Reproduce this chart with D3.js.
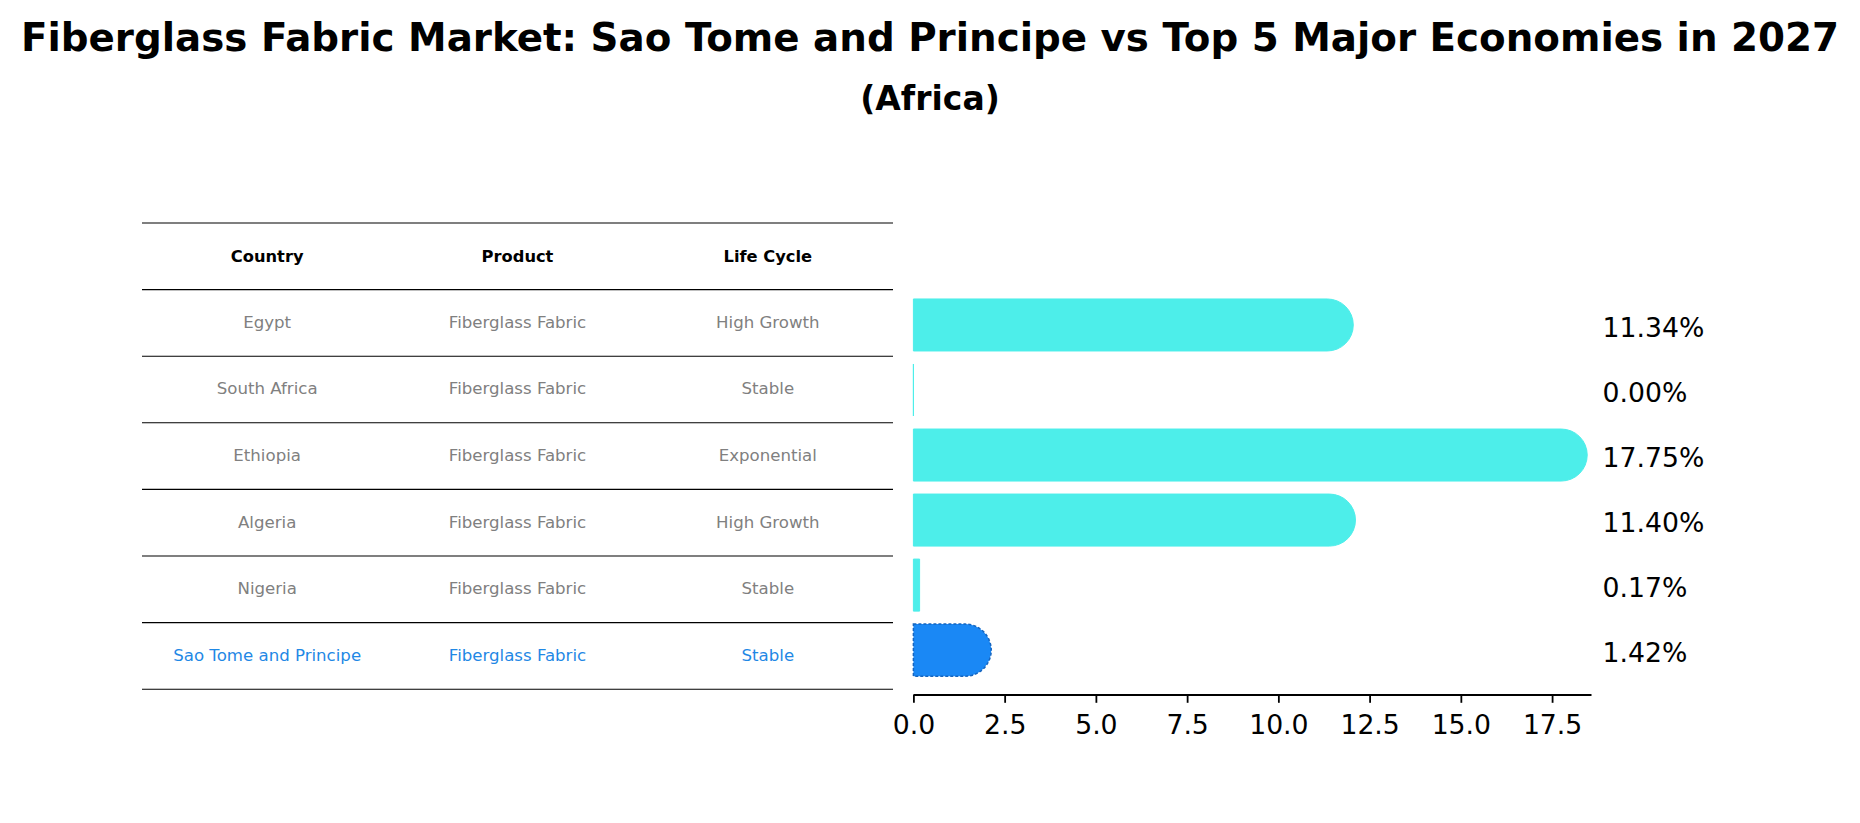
<!DOCTYPE html>
<html>
<head>
<meta charset="utf-8">
<script src="https://cdn.jsdelivr.net/npm/d3@7"></script>
<style>
  body { margin: 0; background: #fff; }
  svg { display: block; font-family: "DejaVu Sans", sans-serif; }
</style>
</head>
<body>
<script>
const countries = ["Egypt", "South Africa", "Ethiopia", "Algeria", "Nigeria", "Sao Tome and Principe"];
const products = ["Fiberglass Fabric", "Fiberglass Fabric", "Fiberglass Fabric", "Fiberglass Fabric", "Fiberglass Fabric", "Fiberglass Fabric"];
const lifeCycles = ["High Growth", "Stable", "Exponential", "High Growth", "Stable", "Stable"];
const values = [11.34, 0.00, 17.75, 11.40, 0.17, 1.42];
const headers = ["Country", "Product", "Life Cycle"];
const xTicks = [0, 2.5, 5, 7.5, 10, 12.5, 15, 17.5];

const W = 1860, H = 823;
const cyan = "#4deeea", blue = "#1a88f5", grey = "#808080", hiText = "#1f88e5";
const focus = countries.length - 1;

var svg = d3.select("body").append("svg")
    .attr("width", W)
    .attr("height", H);

// titles
svg.append("text")
    .attr("x", W / 2).attr("y", 51)
    .attr("text-anchor", "middle")
    .style("font-size", "38.8px").style("font-weight", "bold")
    .text("Fiberglass Fabric Market: Sao Tome and Principe vs Top 5 Major Economies in 2027");
svg.append("text")
    .attr("x", W / 2).attr("y", 110)
    .attr("text-anchor", "middle")
    .style("font-size", "33px").style("font-weight", "bold")
    .text("(Africa)");

// table
let tLeft = 142, tRight = 893, tTop = 223, rowH = 66.6;
let colX = d3.scaleBand().domain(headers).range([tLeft, tRight]);
let table = svg.append("g");

table.selectAll("line")
    .data(d3.range(countries.length + 2))
    .join("line")
    .attr("x1", tLeft).attr("x2", tRight)
    .attr("y1", (d) => tTop + d * rowH)
    .attr("y2", (d) => tTop + d * rowH)
    .attr("stroke", "#000")
    .attr("stroke-width", 1.1);

table.selectAll("text.head")
    .data(headers)
    .join("text")
    .attr("class", "head")
    .attr("x", (d) => colX(d) + colX.bandwidth() / 2)
    .attr("y", tTop + rowH / 2)
    .attr("dy", "0.35em")
    .attr("text-anchor", "middle")
    .style("font-size", "16.3px").style("font-weight", "bold")
    .text((d) => d);

let rows = countries.map((c, i) => [c, products[i], lifeCycles[i]]);
rows.forEach((r, i) => {
    table.selectAll("text.r" + i)
        .data(r)
        .join("text")
        .attr("class", "r" + i)
        .attr("x", (d, j) => colX(headers[j]) + colX.bandwidth() / 2)
        .attr("y", tTop + rowH * (i + 1.5) - 1)
        .attr("dy", "0.35em")
        .attr("text-anchor", "middle")
        .attr("fill", i === focus ? hiText : grey)
        .style("font-size", "16.6px")
        .text((d) => d);
});

// bars
let x = d3.scaleLinear().domain([0, 18.58]).range([913.4, 1591.5]);
let y = d3.scaleLinear().domain([-0.69, 5.69]).range([280.1, 695]);
let barH = 0.8 * (y(1) - y(0));

function barPath(v, i) {
    let x0 = x(0), x1 = x(v), y0 = y(i) - barH / 2, r = barH / 2;
    if (v < 1) {
        return `M${x0},${y0}H${x1}V${y0 + barH}H${x0}Z`;
    }
    return `M${x0},${y0}H${x1}A${r},${r} 0 0 1 ${x1},${y0 + barH}H${x0}Z`;
}

let bars = svg.append("g");
bars.selectAll("path")
    .data(values)
    .join("path")
    .attr("d", (d, i) => barPath(d, i))
    .attr("fill", (d, i) => (i === focus ? blue : cyan))
    .attr("stroke", (d, i) => (i === focus ? "#1565c0" : cyan))
    .attr("stroke-width", (d, i) => (i === focus ? 1.5 : 1))
    .attr("stroke-dasharray", (d, i) => (i === focus ? "3,2" : null));

bars.selectAll("text")
    .data(values)
    .join("text")
    .attr("x", x.range()[1] + 11)
    .attr("y", (d, i) => y(i) + 2.5)
    .attr("dy", "0.35em")
    .style("font-size", "26.7px")
    .text((d) => d.toFixed(2) + "%");

// x axis
let axis = svg.append("g")
    .attr("transform", "translate(0,695)")
    .call(d3.axisBottom(x).tickValues(xTicks).tickFormat(d3.format(".1f")).tickSize(7.8).tickPadding(12));
axis.select(".domain").remove();
axis.append("line")
    .attr("x1", x.range()[0]).attr("x2", x.range()[1])
    .attr("stroke", "#000")
    .attr("stroke-width", 1.8);
axis.selectAll(".tick line").attr("stroke-width", 1.8);
axis.selectAll(".tick text")
    .style("font-size", "26.7px")
    .style("font-family", "DejaVu Sans, sans-serif")
    .attr("fill", "#000");
</script>
</body>
</html>
